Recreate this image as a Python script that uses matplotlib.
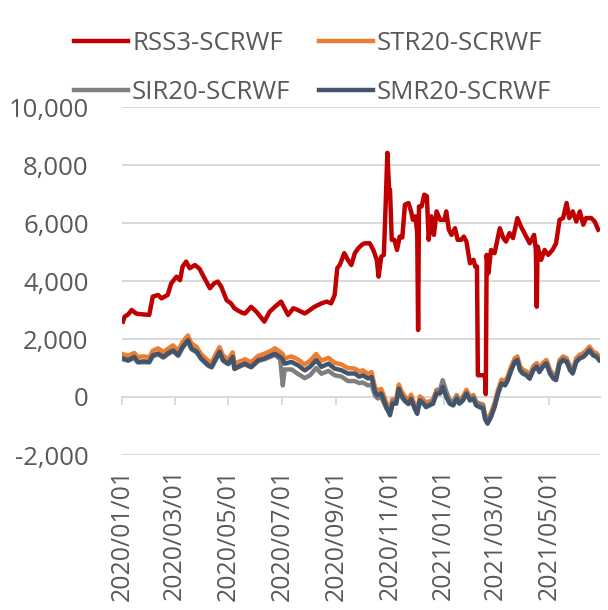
import matplotlib
matplotlib.use("Agg")
import matplotlib.pyplot as plt
import matplotlib.dates as mdates
from matplotlib.ticker import FuncFormatter
import pandas as pd

plt.rcParams['font.family'] = ['Open Sans', 'DejaVu Sans']

# ---------------- data ----------------
red_dates = [
    "2020-01-02", "2020-01-04", "2020-01-08", "2020-01-12", "2020-01-17", "2020-01-21",
    "2020-02-01", "2020-02-05", "2020-02-11", "2020-02-15", "2020-02-22", "2020-02-26",
    "2020-03-03", "2020-03-07", "2020-03-10", "2020-03-14", "2020-03-18", "2020-03-24",
    "2020-03-29", "2020-04-04", "2020-04-10", "2020-04-15", "2020-04-19", "2020-04-23",
    "2020-04-29", "2020-05-04", "2020-05-08", "2020-05-12", "2020-05-17", "2020-05-20",
    "2020-05-27", "2020-06-02", "2020-06-11", "2020-06-17", "2020-06-23", "2020-06-30",
    "2020-07-08", "2020-07-14", "2020-07-19", "2020-07-27", "2020-08-02", "2020-08-07",
    "2020-08-15", "2020-08-21", "2020-08-26", "2020-08-30", "2020-09-02", "2020-09-05",
    "2020-09-10", "2020-09-14", "2020-09-18", "2020-09-22", "2020-09-26", "2020-09-30",
    "2020-10-03", "2020-10-09", "2020-10-13", "2020-10-17", "2020-10-19", "2020-10-22",
    "2020-10-25", "2020-10-27", "2020-10-29", "2020-10-31", "2020-11-01", "2020-11-03",
    "2020-11-06", "2020-11-09", "2020-11-12", "2020-11-15", "2020-11-18", "2020-11-22",
    "2020-11-25", "2020-11-27", "2020-11-30", "2020-12-02", "2020-12-03", "2020-12-04",
    "2020-12-07", "2020-12-10", "2020-12-13", "2020-12-15", "2020-12-18", "2020-12-21",
    "2020-12-24", "2020-12-28", "2021-01-02", "2021-01-04", "2021-01-07", "2021-01-10",
    "2021-01-14", "2021-01-17", "2021-01-21", "2021-01-24", "2021-01-27", "2021-01-31",
    "2021-02-04", "2021-02-06", "2021-02-08", "2021-02-09", "2021-02-17", "2021-02-18",
    "2021-02-19", "2021-02-21", "2021-02-24", "2021-02-28", "2021-03-06", "2021-03-10",
    "2021-03-13", "2021-03-17", "2021-03-21", "2021-03-26", "2021-03-30", "2021-04-05",
    "2021-04-09", "2021-04-14", "2021-04-16", "2021-04-17", "2021-04-18", "2021-04-22",
    "2021-04-26", "2021-04-30", "2021-05-05", "2021-05-09", "2021-05-13", "2021-05-17",
    "2021-05-21", "2021-05-24", "2021-05-28", "2021-06-01", "2021-06-05", "2021-06-09",
    "2021-06-12", "2021-06-18", "2021-06-22", "2021-06-26",
]
rss3 = [
    2600, 2770, 2850, 3000, 2880, 2860,
    2830, 3460, 3520, 3400, 3520, 3920,
    4150, 4030, 4500, 4670, 4440, 4550,
    4430, 4090, 3750, 3920, 3980, 3800,
    3340, 3230, 3060, 2980, 2900, 2880,
    3110, 2940, 2600, 2940, 3110, 3290,
    2830, 3060, 3000, 2880, 3000, 3110,
    3230, 3290, 3230, 3520, 4440, 4560,
    4960, 4730, 4550, 4960, 5130, 5250,
    5300, 5300, 5070, 4730, 4150, 4840,
    4900, 6570, 8420, 7150, 7150, 5420,
    5420, 5070, 5530, 5500, 6630, 6690,
    6400, 6110, 6230, 5650, 2310, 6570,
    6570, 6980, 6920, 5420, 6230, 5590,
    6400, 6110, 6110, 6400, 5770, 5590,
    5820, 5420, 5420, 5530, 5360, 4610,
    4730, 4500, 4500, 750, 750, 100,
    4900, 4270, 5070, 4960, 5820, 5480,
    5360, 5650, 5480, 6170, 5880, 5530,
    5300, 5590, 5070, 3110, 5190, 4730,
    5070, 4900, 5070, 5300, 6110, 6170,
    6690, 6170, 6400, 6050, 6400, 5940,
    6170, 6170, 6050, 5770,
]

low_dates = [
    "2020-01-02", "2020-01-08", "2020-01-15", "2020-01-19", "2020-01-26", "2020-02-01",
    "2020-02-05", "2020-02-11", "2020-02-17", "2020-02-22", "2020-02-28", "2020-03-05",
    "2020-03-10", "2020-03-16", "2020-03-20", "2020-03-26", "2020-03-31", "2020-04-08",
    "2020-04-12", "2020-04-17", "2020-04-21", "2020-04-25", "2020-05-01", "2020-05-06",
    "2020-05-08", "2020-05-16", "2020-05-20", "2020-05-27", "2020-06-04", "2020-06-11",
    "2020-06-19", "2020-06-23", "2020-06-29", "2020-07-02", "2020-07-04", "2020-07-12",
    "2020-07-19", "2020-07-27", "2020-08-02", "2020-08-09", "2020-08-15", "2020-08-23",
    "2020-08-30", "2020-09-07", "2020-09-14", "2020-09-22", "2020-09-27", "2020-10-01",
    "2020-10-07", "2020-10-11", "2020-10-15", "2020-10-18", "2020-10-22", "2020-10-28",
    "2020-11-01", "2020-11-04", "2020-11-08", "2020-11-11", "2020-11-14", "2020-11-18",
    "2020-11-22", "2020-11-25", "2020-11-29", "2020-12-02", "2020-12-05", "2020-12-09",
    "2020-12-12", "2020-12-16", "2020-12-20", "2020-12-24", "2020-12-28", "2020-12-31",
    "2021-01-04", "2021-01-08", "2021-01-12", "2021-01-16", "2021-01-19", "2021-01-23",
    "2021-01-27", "2021-01-31", "2021-02-04", "2021-02-07", "2021-02-11", "2021-02-15",
    "2021-02-17", "2021-02-20", "2021-02-24", "2021-02-28", "2021-03-04", "2021-03-08",
    "2021-03-12", "2021-03-15", "2021-03-19", "2021-03-23", "2021-03-26", "2021-03-29",
    "2021-04-01", "2021-04-05", "2021-04-09", "2021-04-13", "2021-04-17", "2021-04-20",
    "2021-04-24", "2021-04-28", "2021-05-02", "2021-05-06", "2021-05-09", "2021-05-13",
    "2021-05-17", "2021-05-21", "2021-05-25", "2021-05-28", "2021-06-01", "2021-06-05",
    "2021-06-09", "2021-06-13", "2021-06-16", "2021-06-20", "2021-06-24", "2021-06-27",
]
smr20 = [
    1330, 1270, 1380, 1210, 1230, 1210,
    1440, 1500, 1380, 1500, 1610, 1440,
    1730, 1960, 1670, 1560, 1330, 1100,
    1040, 1330, 1560, 1270, 1150, 1380,
    980, 1100, 1150, 1040, 1270, 1330,
    1440, 1500, 1380, 1300, 1150, 1210,
    1100, 920, 1040, 1270, 1040, 1150,
    980, 920, 810, 810, 700, 750,
    640, 690, 170, 60, 120, -350,
    -630, -230, -230, 290, 60, -120,
    -230, -60, -400, -580, -120, -230,
    -350, -290, -230, 120, 120, 350,
    0, -230, -290, -60, -230, -120,
    120, -120, -60, -290, -350, -400,
    -750, -920, -690, -350, 120, 460,
    400, 580, 920, 1210, 1270, 920,
    810, 750, 630, 920, 1040, 860,
    1040, 1150, 810, 630, 580, 1150,
    1270, 1210, 920, 810, 1210, 1330,
    1380, 1500, 1610, 1440, 1380, 1270,
]
str20 = [
    1480, 1420, 1520, 1380, 1400, 1370,
    1600, 1680, 1550, 1660, 1780, 1600,
    1900, 2120, 1850, 1720, 1480, 1250,
    1190, 1490, 1720, 1430, 1300, 1540,
    1150, 1250, 1300, 1200, 1420, 1490,
    1600, 1680, 1560, 1480, 1330, 1400,
    1300, 1120, 1250, 1480, 1250, 1350,
    1180, 1120, 1000, 980, 880, 920,
    800, 860, 330, 220, 280, -200,
    -480, -80, -80, 430, 200, 20,
    -90, 80, -260, -440, 20, -90,
    -200, -150, -90, 250, 250, 420,
    130, -100, -160, 70, -100, 10,
    250, 10, 70, -160, -220, -260,
    -600, -780, -540, -200, 260, 600,
    540, 720, 1060, 1340, 1400, 1060,
    950, 890, 770, 1060, 1170, 1000,
    1170, 1280, 950, 770, 720, 1280,
    1400, 1340, 1060, 950, 1340, 1460,
    1510, 1630, 1740, 1570, 1510, 1400,
]
sir20 = [
    1300, 1250, 1350, 1190, 1200, 1190,
    1400, 1470, 1360, 1470, 1580, 1420,
    1700, 1930, 1650, 1540, 1310, 1080,
    1020, 1300, 1530, 1250, 1130, 1350,
    960, 1080, 1120, 1020, 1240, 1300,
    1400, 1450, 1300, 400, 950, 950,
    800, 650, 750, 1000, 800, 900,
    750, 700, 550, 550, 480, 500,
    400, 420, 50, -50, 0, -400,
    -550, -150, -200, 200, 0, -150,
    -250, -100, -350, -500, -100, -200,
    -300, -250, -150, 200, 250, 580,
    200, -150, -200, 0, -150, -50,
    150, -80, 0, -200, -250, -300,
    -650, -850, -620, -300, 150, 480,
    430, 600, 950, 1230, 1300, 950,
    850, 800, 680, 950, 1080, 900,
    1080, 1180, 880, 700, 650, 1200,
    1320, 1260, 980, 870, 1250, 1360,
    1400, 1520, 1640, 1480, 1420, 1300,
]

series_names = ["RSS3-SCRWF", "STR20-SCRWF", "SIR20-SCRWF", "SMR20-SCRWF"]
series_colors = ["#C00000", "#ED7D31", "#7F7F7F", "#44546A"]

y_ticks = [-2000, 0, 2000, 4000, 6000, 8000, 10000]
x_start, x_end = "2020-01-01", "2021-06-28"

# ---------------- plot ----------------
text_color = "#595959"
grid_color = "#D9D9D9"

fig = plt.figure(figsize=(6.08, 6.10), dpi=100)
ax = fig.add_axes([122 / 608, 1 - 455 / 610, (600 - 122) / 608, (455 - 107) / 610])

rd = pd.to_datetime(red_dates)
ld = pd.to_datetime(low_dates)
lw = 3.2
h_red, = ax.plot(rd, rss3, color=series_colors[0], lw=lw, solid_joinstyle="round", zorder=3)
h_str, = ax.plot(ld, str20, color=series_colors[1], lw=lw, solid_joinstyle="round", zorder=4)
h_sir, = ax.plot(ld, sir20, color=series_colors[2], lw=lw, solid_joinstyle="round", zorder=5)
h_smr, = ax.plot(ld, smr20, color=series_colors[3], lw=lw, solid_joinstyle="round", zorder=6)

ax.set_ylim(min(y_ticks), max(y_ticks))
ax.set_yticks(y_ticks)
ax.yaxis.set_major_formatter(FuncFormatter(lambda v, p: f"{int(v):,}"))
ax.set_xlim(pd.Timestamp(x_start), pd.Timestamp(x_end))
ax.xaxis.set_major_locator(mdates.MonthLocator(bymonth=[1, 3, 5, 7, 9, 11]))
ax.xaxis.set_major_formatter(mdates.DateFormatter("%Y/%m/%d"))

ax.grid(axis="y", color=grid_color, lw=1.4, zorder=0)
ax.set_axisbelow(True)
for s in ["left", "right", "top"]:
    ax.spines[s].set_visible(False)
ax.spines["bottom"].set_position(("data", 0))
ax.spines["bottom"].set_color(grid_color)
ax.spines["bottom"].set_linewidth(1.4)
ax.spines["bottom"].set_zorder(1)

fs = 18.5
ax.tick_params(axis="y", length=0, pad=24, labelsize=fs, labelcolor=text_color)
ax.tick_params(axis="x", direction="out", length=5.5, width=1.4, color=grid_color,
               labelsize=17.8, labelcolor=text_color, labelrotation=90, pad=46)

handles = [h_red, h_sir, h_str, h_smr]
labels = [series_names[0], series_names[2], series_names[1], series_names[3]]
leg = fig.legend(handles, labels, ncol=2, loc="upper center", bbox_to_anchor=(0.514, 0.987),
                 frameon=False, fontsize=fs, handlelength=2.1, handletextpad=0.16,
                 columnspacing=1.1, labelspacing=0.94, labelcolor=text_color)

fig.savefig("out.png", dpi=100)
